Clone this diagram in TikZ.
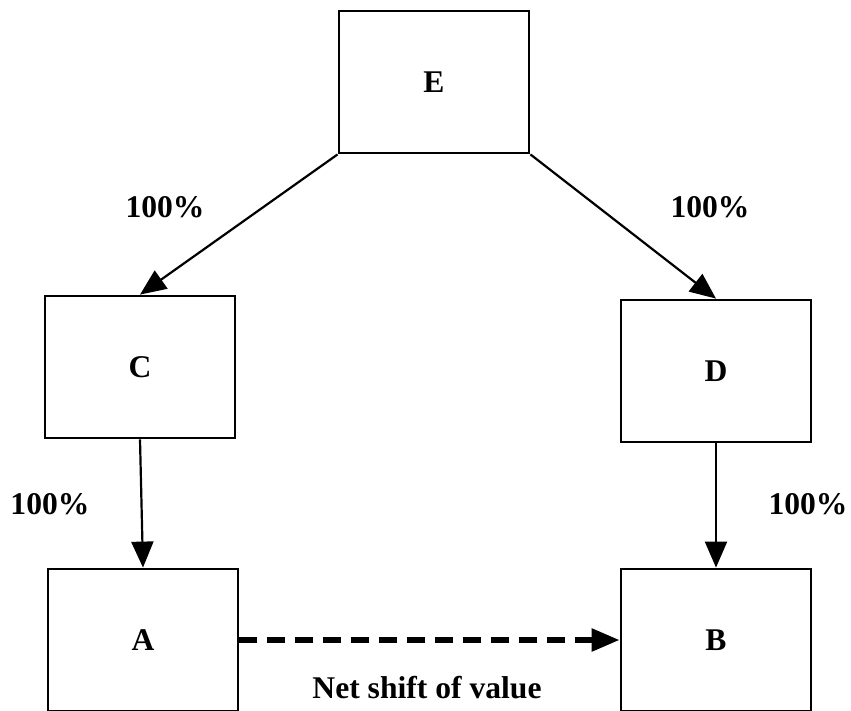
\documentclass[tikz,border=0pt]{standalone}
\usepackage{fontspec}
\setmainfont{Liberation Serif}
\usetikzlibrary{arrows.meta,positioning}
\tikzset{
  box/.style={draw,line width=1.4pt,minimum width=95pt,minimum height=71pt,inner sep=0pt},
  link/.style={line width=1.1pt,-{Triangle[length=13pt,width=11pt]}},
  shiftline/.style={line width=2.8pt,dash pattern=on 9pt off 5pt,-{Triangle[length=14pt,width=11pt]}},
  every node/.style={font=\fontsize{15.8}{18}\selectfont\bfseries}
}
\begin{document}
\begin{tikzpicture}[x=0.5pt,y=-0.5pt]
  \useasboundingbox (0,0) rectangle (851,711);
  % boxes
  \node[box] (e) at (434,82) {E};
  \node[box] (c) at (140,367) {C};
  \node[box] (d) at (716,371) {D};
  \node[box] (a) at (143,640) {A};
  \node[box] (b) at (716,640) {B};
  % ownership links
  \draw[link] (e.south west) -- (c.north);
  \draw[link] (e.south east) -- (d.north);
  \draw[link] (c.south) -- (a.north);
  \draw[link] (d.south) -- (b.north);
  \draw[shiftline] (a.east) -- (b.west);
  % labels
  \node (pec) at (165,207) {100\%};
  \node (ped) at (710,207) {100\%};
  \node (pca) at (50,504) {100\%};
  \node (pdb) at (808,504) {100\%};
  \node (net) at (427,688) {Net shift of value};
\end{tikzpicture}
\end{document}
